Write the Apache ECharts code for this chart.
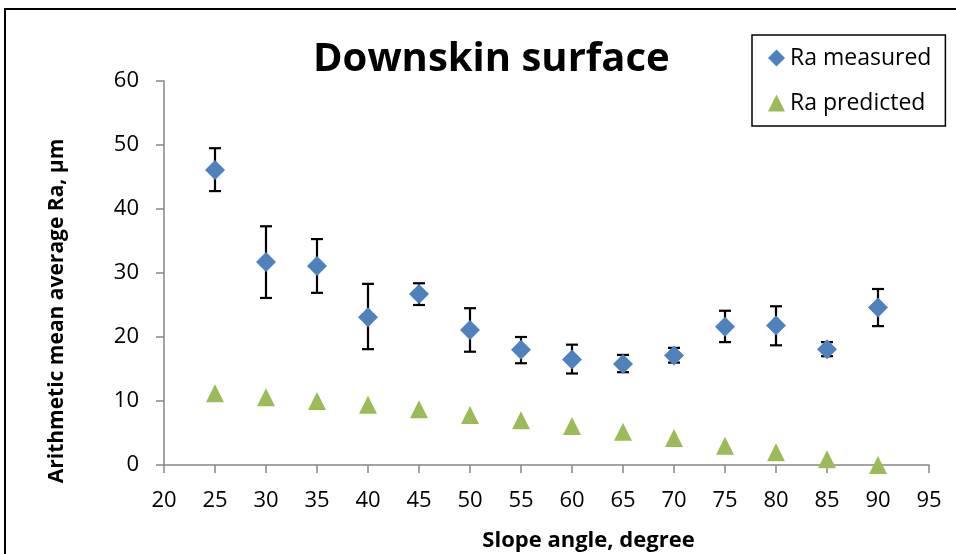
<!DOCTYPE html>
<html lang="en">

<head>
    <meta charset="UTF-8">
    <title>Downskin surface</title>
    <script src="https://cdn.jsdelivr.net/npm/echarts@6/dist/echarts.min.js"></script>
    <style>
        html, body { margin: 0; padding: 0; background: #fff; }
        #main { width: 956px; height: 554px; }
    </style>
</head>

<body>
    <div id="main"></div>
    <script>
        // slope angle (degree)
        var angles = [25, 30, 35, 40, 45, 50, 55, 60, 65, 70, 75, 80, 85, 90];
        // Ra measured + error bar ends
        var measured = [46.1, 31.7, 31.1, 23.1, 26.7, 21.1, 18.0, 16.5, 15.8, 17.1, 21.6, 21.8, 18.1, 24.6];
        var errLow = [42.8, 26.1, 26.9, 18.1, 25.0, 17.7, 15.9, 14.3, 14.5, 16.0, 19.2, 18.7, 17.0, 21.7];
        var errHigh = [49.5, 37.3, 35.3, 28.3, 28.4, 24.5, 20.0, 18.8, 17.2, 18.3, 24.1, 24.8, 19.2, 27.5];
        // Ra predicted
        var predicted = [11.2, 10.6, 10.0, 9.4, 8.7, 7.8, 7.0, 6.1, 5.2, 4.2, 3.0, 2.0, 0.9, 0.0];

        var font = 'Open Sans';
        var axisColor = '#868686';

        var measuredData = angles.map(function (a, i) { return [a, measured[i]]; });
        var predictedData = angles.map(function (a, i) { return [a, predicted[i]]; });
        var errData = angles.map(function (a, i) { return [a, errLow[i], errHigh[i]]; });

        var myChart = echarts.init(document.getElementById('main'));
        var option = {
            animation: false,
            backgroundColor: '#fff',
            textStyle: { fontFamily: font },
            title: {
                text: 'Downskin surface',
                left: 313,
                top: 40,
                padding: 0,
                textStyle: { fontFamily: font, fontSize: 40, fontWeight: 'bold', color: '#000' }
            },
            graphic: [{
                // outer chart frame (cut off right / bottom)
                type: 'rect',
                shape: { x: 5, y: 9, width: 1000, height: 600 },
                style: { fill: 'none', stroke: '#000', lineWidth: 2 },
                silent: true
            }],
            legend: {
                left: 752,
                top: 35,
                orient: 'vertical',
                borderColor: '#000',
                borderWidth: 1.5,
                borderRadius: 0,
                padding: [10, 14, 10, 16],
                itemGap: 19,
                itemWidth: 17,
                itemHeight: 17,
                textStyle: { fontFamily: font, fontSize: 23, color: '#000', lineHeight: 26 },
                data: [
                    { name: 'Ra measured', icon: 'diamond' },
                    { name: 'Ra predicted', icon: 'triangle' }
                ]
            },
            grid: { left: 164, right: 27, top: 81, bottom: 89, outerBoundsMode: 'none' },
            xAxis: {
                type: 'value',
                min: 20, max: 95, interval: 5,
                name: 'Slope angle, degree',
                nameLocation: 'middle',
                nameGap: 65,
                nameTextStyle: { fontFamily: font, fontSize: 22, fontWeight: 'bold', color: '#000', padding: [0, 0, 0, 84] },
                axisLine: { lineStyle: { color: axisColor, width: 1.5 } },
                axisTick: { inside: false, length: 8, lineStyle: { color: axisColor, width: 1.5 } },
                axisLabel: { fontFamily: font, fontSize: 22, color: '#000', margin: 25 },
                splitLine: { show: false }
            },
            yAxis: {
                type: 'value',
                min: 0, max: 60, interval: 10,
                name: 'Arithmetic mean average Ra, μm',
                nameLocation: 'middle',
                nameGap: 96,
                nameTextStyle: { fontFamily: font, fontSize: 21, fontWeight: 'bold', color: '#000', padding: [0, 76, 0, 0] },
                axisLine: { show: true, lineStyle: { color: axisColor, width: 1.5 } },
                axisTick: { show: true, inside: false, length: 8, lineStyle: { color: axisColor, width: 1.5 } },
                axisLabel: { fontFamily: font, fontSize: 22, color: '#000', margin: 25 },
                splitLine: { show: false }
            },
            series: [
                {
                    name: 'errors',
                    type: 'custom',
                    z: 1,
                    silent: true,
                    data: errData,
                    renderItem: function (params, api) {
                        var x = api.value(0);
                        var lo = api.coord([x, api.value(1)]);
                        var hi = api.coord([x, api.value(2)]);
                        var cap = 6;
                        var st = { stroke: '#000', lineWidth: 2.2 };
                        return {
                            type: 'group',
                            children: [
                                { type: 'line', shape: { x1: hi[0], y1: hi[1], x2: lo[0], y2: lo[1] }, style: st },
                                { type: 'line', shape: { x1: hi[0] - cap, y1: hi[1], x2: hi[0] + cap, y2: hi[1] }, style: st },
                                { type: 'line', shape: { x1: lo[0] - cap, y1: lo[1], x2: lo[0] + cap, y2: lo[1] }, style: st }
                            ]
                        };
                    }
                },
                {
                    name: 'Ra measured',
                    type: 'scatter',
                    z: 3,
                    symbol: 'diamond',
                    symbolSize: 20,
                    itemStyle: { color: '#4F81BD', opacity: 1 },
                    data: measuredData
                },
                {
                    name: 'Ra predicted',
                    type: 'scatter',
                    z: 3,
                    symbol: 'triangle',
                    symbolSize: 18,
                    itemStyle: { color: '#9BBB59', opacity: 1 },
                    data: predictedData
                }
            ]
        };
        myChart.setOption(option);
    </script>
</body>

</html>
